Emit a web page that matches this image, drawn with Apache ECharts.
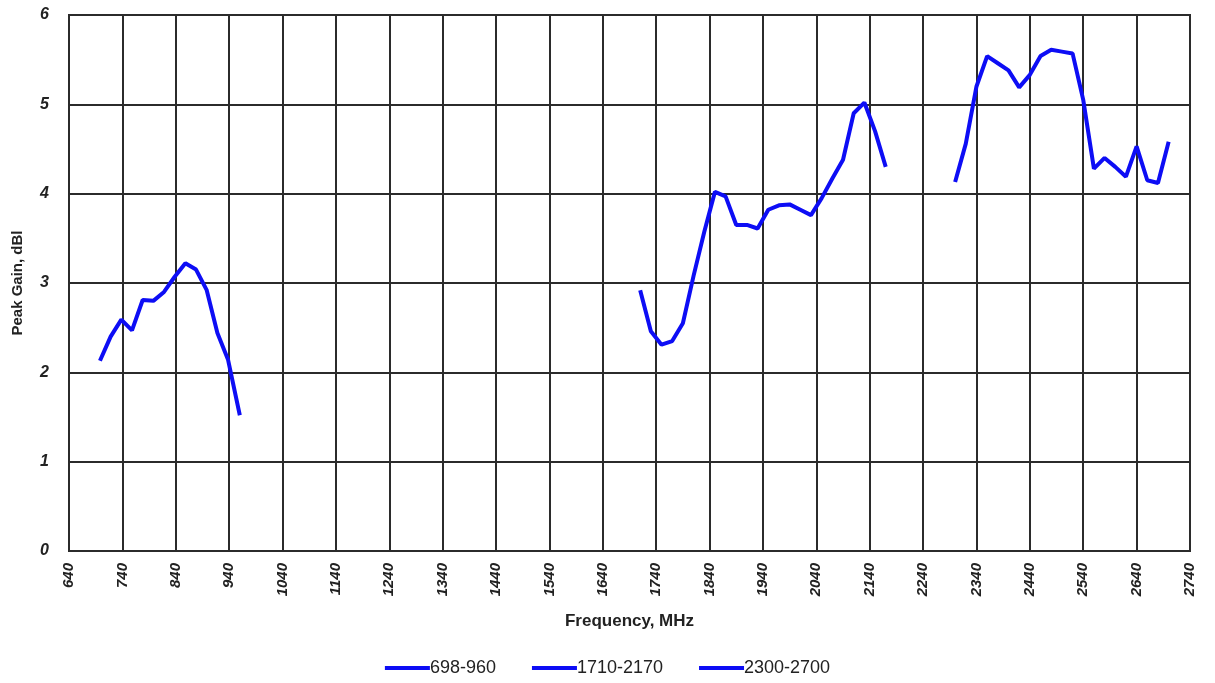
<!DOCTYPE html>
<html>
<head>
<meta charset="utf-8">
<script src="https://cdn.jsdelivr.net/npm/echarts@6/dist/echarts.min.js"></script>
<style>
  html, body { margin: 0; padding: 0; background: #fff; }
  #chart { width: 1215px; height: 683px; }
</style>
</head>
<body>
<div id="chart"></div>
<script>
// frequency axis, MHz
var X_MIN = 640, X_MAX = 2740, X_STEP = 100;

var band1Freq = [698, 718, 738, 758, 778, 798, 818, 838, 858, 878, 898, 918, 938, 960];
var band1Gain = [2.13, 2.40, 2.59, 2.47, 2.81, 2.80, 2.90, 3.07, 3.22, 3.15, 2.92, 2.44, 2.14, 1.52];

var band2Freq = [1710, 1730, 1750, 1770, 1790, 1810, 1830, 1850, 1870, 1890, 1910, 1930,
                 1950, 1970, 1990, 2010, 2030, 2050, 2070, 2090, 2110, 2130, 2150, 2170];
var band2Gain = [2.92, 2.46, 2.31, 2.35, 2.55, 3.08, 3.57, 4.02, 3.97, 3.65, 3.65, 3.61,
                 3.82, 3.87, 3.88, 3.82, 3.76, 3.95, 4.17, 4.38, 4.90, 5.02, 4.70, 4.30];

var band3Freq = [2300, 2320, 2340, 2360, 2380, 2400, 2420, 2440, 2460, 2480, 2500,
                 2520, 2540, 2560, 2580, 2600, 2620, 2640, 2660, 2680, 2700];
var band3Gain = [4.13, 4.56, 5.20, 5.54, 5.46, 5.38, 5.19, 5.33, 5.54, 5.61, 5.59,
                 5.57, 5.05, 4.28, 4.40, 4.30, 4.19, 4.53, 4.15, 4.12, 4.58];

var bandNames = ['698-960', '1710-2170', '2300-2700'];

// x is shifted by X_MIN so the ticks start at 640
function toPoints(freq, gain) {
    var res = [];
    for (var i = 0; i < freq.length; i++) {
        res.push([freq[i] - X_MIN, gain[i]]);
    }
    return res;
}

var lineColor = '#0d0df5';
var gridColor = '#2b2b2b';

var chart = echarts.init(document.getElementById('chart'));

function band(name, freq, gain) {
    return {
        name: name,
        type: 'line',
        data: toPoints(freq, gain),
        showSymbol: false,
        symbol: 'none',
        lineStyle: { color: lineColor, width: 4 },
        itemStyle: { color: lineColor },
        smooth: false
    };
}

var option = {
    backgroundColor: '#fff',
    animation: false,
    grid: {
        left: 69, right: 25, top: 15, bottom: 132,
        show: true, borderColor: gridColor, borderWidth: 2
    },
    legend: {
        bottom: 1,
        left: 'center',
        itemWidth: 45,
        itemHeight: 4,
        itemGap: 36,
        icon: 'rect',
        textStyle: { fontFamily: 'Liberation Sans', fontSize: 18, color: '#222', padding: [0, 0, 0, -5] },
        data: bandNames
    },
    xAxis: {
        type: 'value',
        min: 0,
        max: X_MAX - X_MIN,
        interval: X_STEP,
        name: 'Frequency, MHz',
        nameLocation: 'middle',
        nameGap: 62,
        nameTextStyle: { fontFamily: 'Liberation Sans', fontWeight: 'bold', fontSize: 17, color: '#222' },
        axisLine: { show: true, lineStyle: { color: gridColor, width: 2 } },
        axisTick: { show: false },
        splitLine: { show: true, lineStyle: { color: gridColor, width: 2 } },
        axisLabel: {
            rotate: 90,
            margin: 12,
            fontFamily: 'Liberation Sans',
            fontStyle: 'italic',
            fontWeight: 'bold',
            fontSize: 15,
            color: '#222',
            formatter: function (v) { return String(v + X_MIN); }
        }
    },
    yAxis: {
        type: 'value',
        min: 0,
        max: 6,
        interval: 1,
        name: 'Peak Gain, dBl',
        nameLocation: 'middle',
        nameGap: 44,
        nameTextStyle: { fontFamily: 'Liberation Sans', fontWeight: 'bold', fontSize: 15, color: '#222' },
        axisLine: { show: true, lineStyle: { color: gridColor, width: 2 } },
        axisTick: { show: false },
        splitLine: { show: true, lineStyle: { color: gridColor, width: 2 } },
        axisLabel: {
            margin: 20,
            fontFamily: 'Liberation Sans',
            fontStyle: 'italic',
            fontWeight: 'bold',
            fontSize: 16,
            color: '#222'
        }
    },
    series: [
        band(bandNames[0], band1Freq, band1Gain),
        band(bandNames[1], band2Freq, band2Gain),
        band(bandNames[2], band3Freq, band3Gain)
    ]
};

chart.setOption(option);
</script>
</body>
</html>
